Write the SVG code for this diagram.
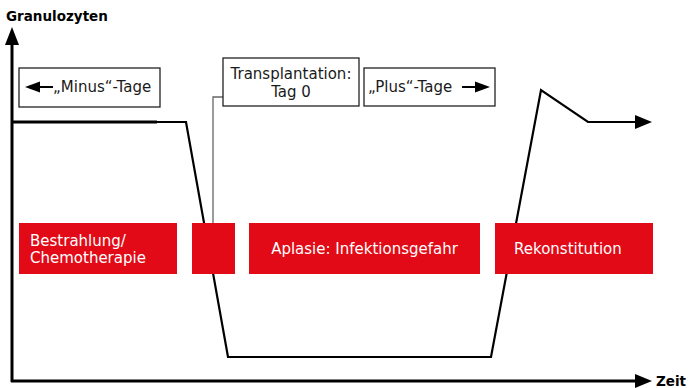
<svg xmlns="http://www.w3.org/2000/svg" width="691" height="388" viewBox="0 0 691 388">
<style>
.lbl{font-family:"DejaVu Sans","Liberation Sans",sans-serif;font-size:15px;fill:#1a1a1a}
.wt{font-family:"DejaVu Sans","Liberation Sans",sans-serif;font-size:15px;fill:#fff}
.ax{font-family:"DejaVu Sans","Liberation Sans",sans-serif;font-size:13.5px;font-weight:bold;fill:#000}
.box{fill:#fff;stroke:#222;stroke-width:1.3}
.red{fill:#e20a16}
.ln{fill:none;stroke:#000;stroke-width:2.2;stroke-linejoin:miter}
</style>
<g id="axes">
<line x1="12" y1="382" x2="12" y2="44" stroke="#000" stroke-width="3"/>
<path d="M12,27 L19,45 L5,45 z" fill="#000"/>
<line x1="11" y1="381" x2="636" y2="381" stroke="#000" stroke-width="3"/>
<path d="M652,381 L635,374 L635,388 z" fill="#000"/>
<text class="ax" x="6" y="21">Granulozyten</text>
<text class="ax" x="656" y="386" font-size="13">Zeit</text>
</g>
<g id="connectors">
<line x1="12" y1="122" x2="157" y2="122" stroke="#000" stroke-width="3.2"/>
<polyline class="ln" points="155,122 186,122 228,357 491,357 541,90 588,122 636,122"/>
<path d="M652,122 L635,115 L635,129 z" fill="#000"/>
<polyline points="223,97 213,97 213,224" fill="none" stroke="#666" stroke-width="1.3"/>
</g>
<g id="minus">
<rect class="box" x="19" y="68" width="141" height="39"/>
<line x1="38" y1="87" x2="53" y2="87" stroke="#000" stroke-width="2"/>
<path d="M25,87 L40,81.5 L40,92.5 z" fill="#000"/>
<text class="lbl" x="53" y="92">„Minus“-Tage</text>
</g>
<g id="transplantation">
<rect class="box" x="223" y="58" width="136" height="48"/>
<text class="lbl" x="291" y="79" text-anchor="middle">Transplantation:</text>
<text class="lbl" x="291" y="97" text-anchor="middle">Tag 0</text>
</g>
<g id="plus">
<rect class="box" x="364" y="68" width="131" height="38"/>
<text class="lbl" x="368" y="92">„Plus“-Tage</text>
<line x1="462" y1="87" x2="477" y2="87" stroke="#000" stroke-width="2"/>
<path d="M490,87 L475,81.5 L475,92.5 z" fill="#000"/>
</g>
<g id="bestrahlung">
<rect class="red" x="19" y="223" width="158" height="51"/>
<text class="wt" x="30" y="246">Bestrahlung/</text>
<text class="wt" x="30" y="263">Chemotherapie</text>
</g>
<g id="tag0">
<rect class="red" x="192" y="223" width="43" height="51"/>
</g>
<g id="aplasie">
<rect class="red" x="249" y="223" width="231" height="51"/>
<text class="wt" x="364.5" y="254" text-anchor="middle">Aplasie: Infektionsgefahr</text>
</g>
<g id="rekonstitution">
<rect class="red" x="495" y="223" width="158" height="51"/>
<text class="wt" x="514" y="254">Rekonstitution</text>
</g>
</svg>
